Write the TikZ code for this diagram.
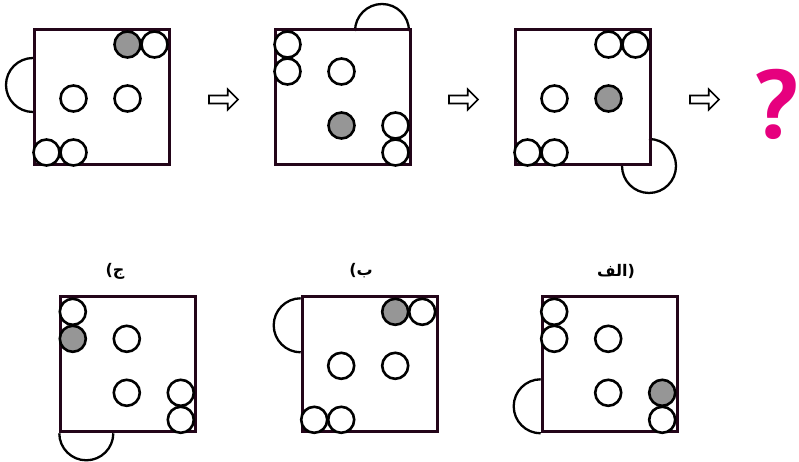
\documentclass[tikz,border=0pt]{standalone}
\usepackage{fontspec}
\usepackage{xcolor}
\usetikzlibrary{shapes.arrows}
\TeXXeTstate=1
\newfontfamily\arabicfont[Script=Arabic]{DejaVu Sans}
\newfontfamily\labelfont{DejaVu Sans}
\newfontfamily\qfont{PT Sans}
\definecolor{qpink}{RGB}{230,0,126}
\definecolor{dotgray}{RGB}{150,150,150}
\definecolor{framecol}{RGB}{35,5,25}

\begin{document}
\begin{tikzpicture}[x=1pt, y=1pt]
  \tikzset{
    panel/.style={draw=framecol, line width=2.8pt, minimum size=135pt, inner sep=0pt, anchor=south west},
    dot/.style={circle, draw=black, line width=2.6pt, fill=white, minimum size=26pt, inner sep=0pt},
    gdot/.style={dot, fill=dotgray},
    knob/.style={draw=black, line width=2.3pt},
    nextarrow/.style={single arrow, draw=black, line width=1.6pt, minimum height=29pt,
      inner xsep=0pt, inner ysep=3.2pt, single arrow head extend=6.3pt},
    optlabel/.style={font=\labelfont\bfseries\fontsize{16}{18}\selectfont}
  }
  \useasboundingbox (0,0) rectangle (799,462);

  % --- ROW 1: the sequence ---
  \begin{scope}[shift={(33,296)}]
    \draw[knob] (0,108) arc[start angle=90, end angle=270, radius=27];
    \node[panel] (sqA) at (0,0) {};
    \foreach \i/\j in {4/4,1/2,3/2,0/0,1/0}
      \node[dot] (A\i\j) at ({27*\i+13.5},{27*\j+13.5}) {};
    \node[gdot] (A34) at (94.5,121.5) {};
  \end{scope}

  \begin{scope}[shift={(274,296)}]
    \draw[knob] (81,135) arc[start angle=180, end angle=0, radius=27];
    \node[panel] (sqB) at (0,0) {};
    \foreach \i/\j in {0/4,0/3,2/3,4/1,4/0}
      \node[dot] (B\i\j) at ({27*\i+13.5},{27*\j+13.5}) {};
    \node[gdot] (B21) at (67.5,40.5) {};
  \end{scope}

  \begin{scope}[shift={(514,296)}]
    \draw[knob] (108,0) arc[start angle=180, end angle=450, radius=27];
    \node[panel] (sqC) at (0,0) {};
    \foreach \i/\j in {3/4,4/4,1/2,0/0,1/0}
      \node[dot] (C\i\j) at ({27*\i+13.5},{27*\j+13.5}) {};
    \node[gdot] (C32) at (94.5,67.5) {};
  \end{scope}

  \node[nextarrow] (arr1) at (221.5,362.5) {};
  \node[nextarrow] (arr2) at (461.5,362.5) {};
  \node[nextarrow] (arr3) at (702.5,362.5) {};
  \node[text=qpink, inner sep=0pt, font=\qfont\bfseries\fontsize{97}{97}\selectfont] (qmark) at (777,358) {\makebox[36pt]{?}};

  % --- ROW 2: the options ---
  \begin{scope}[shift={(59.3,28.7)}]
    \draw[knob] (0,0) arc[start angle=180, end angle=360, radius=27];
    \node[panel] (sqJ) at (0,0) {};
    \foreach \i/\j in {0/4,2/3,2/1,4/1,4/0}
      \node[dot] (J\i\j) at ({27*\i+13.5},{27*\j+13.5}) {};
    \node[gdot] (J03) at (13.5,94.5) {};
  \end{scope}
  \node[optlabel] (labJ) at (115,191) {({\arabicfont\beginR ج\endR}};

  \begin{scope}[shift={(300.7,28.7)}]
    \draw[knob] (0,135) arc[start angle=90, end angle=270, radius=27];
    \node[panel] (sqB2) at (0,0) {};
    \foreach \i/\j in {4/4,1/2,3/2,0/0,1/0}
      \node[dot] (P\i\j) at ({27*\i+13.5},{27*\j+13.5}) {};
    \node[gdot] (P34) at (94.5,121.5) {};
  \end{scope}
  \node[optlabel] (labB) at (361,191) {({\arabicfont\beginR ب\endR}};

  \begin{scope}[shift={(540.7,28.7)}]
    \draw[knob] (0,54) arc[start angle=90, end angle=270, radius=27];
    \node[panel] (sqL) at (0,0) {};
    \foreach \i/\j in {0/4,0/3,2/3,2/1,4/0}
      \node[dot] (L\i\j) at ({27*\i+13.5},{27*\j+13.5}) {};
    \node[gdot] (L41) at (121.5,40.5) {};
  \end{scope}
  \node[optlabel] (labL) at (616,191) {{\arabicfont\beginR الف\endR})};
\end{tikzpicture}
\end{document}
